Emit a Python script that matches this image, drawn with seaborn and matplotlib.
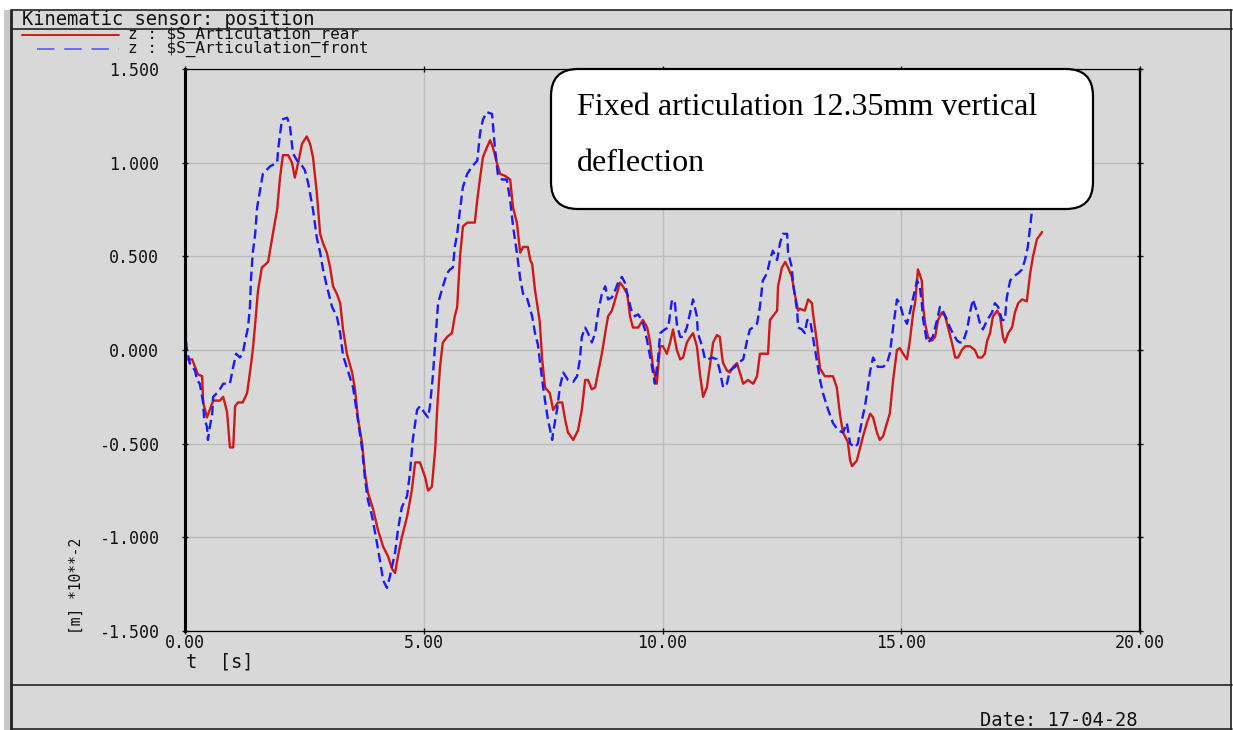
import matplotlib
matplotlib.use("Agg")
import matplotlib.pyplot as plt
import seaborn as sns
import pandas as pd
from matplotlib.patches import FancyBboxPatch, Rectangle
from matplotlib.lines import Line2D

# ---- data: kinematic sensor z-position (m * 1e-2) over time (s) ----
rear_t = [0.00, 0.02, 0.15, 0.21, 0.27, 0.36, 0.38, 0.46, 0.59, 0.73, 0.80, 0.88, 0.90, 0.94, 1.01,
          1.05, 1.11, 1.21, 1.30, 1.36, 1.42, 1.47, 1.53, 1.61, 1.74, 1.82, 1.84, 1.93, 1.99, 2.05,
          2.16, 2.24, 2.30, 2.37, 2.45, 2.55, 2.62, 2.68, 2.76, 2.83, 2.89, 2.97, 3.04, 3.10, 3.18,
          3.25, 3.31, 3.39, 3.50, 3.56, 3.62, 3.71, 3.77, 3.83, 3.94, 4.04, 4.15, 4.25, 4.34, 4.40,
          4.46, 4.54, 4.65, 4.75, 4.82, 4.92, 5.03, 5.09, 5.17, 5.24, 5.28, 5.34, 5.40, 5.49, 5.59,
          5.65, 5.70, 5.76, 5.82, 5.91, 6.07, 6.12, 6.18, 6.24, 6.32, 6.39, 6.45, 6.53, 6.60, 6.70,
          6.81, 6.87, 6.95, 7.02, 7.08, 7.18, 7.23, 7.27, 7.33, 7.43, 7.48, 7.54, 7.64, 7.71, 7.81,
          7.90, 7.96, 8.02, 8.13, 8.23, 8.31, 8.38, 8.44, 8.52, 8.59, 8.65, 8.73, 8.80, 8.86, 8.94,
          9.01, 9.11, 9.17, 9.26, 9.32, 9.38, 9.49, 9.59, 9.68, 9.74, 9.80, 9.88, 9.95, 10.01, 10.09,
          10.16, 10.22, 10.30, 10.37, 10.43, 10.51, 10.58, 10.64, 10.72, 10.79, 10.85, 10.93, 10.99,
          11.06, 11.14, 11.20, 11.25, 11.27, 11.35, 11.41, 11.48, 11.56, 11.62, 11.69, 11.79, 11.90,
          11.98, 12.04, 12.21, 12.25, 12.31, 12.40, 12.42, 12.50, 12.57, 12.63, 12.71, 12.77, 12.84,
          12.88, 12.98, 13.05, 13.13, 13.15, 13.24, 13.30, 13.40, 13.57, 13.65, 13.72, 13.78, 13.88,
          13.93, 13.97, 14.07, 14.14, 14.20, 14.28, 14.35, 14.41, 14.49, 14.55, 14.62, 14.70, 14.76,
          14.83, 14.91, 14.97, 15.04, 15.12, 15.18, 15.25, 15.29, 15.35, 15.43, 15.46, 15.50, 15.56,
          15.64, 15.71, 15.77, 15.85, 15.92, 15.98, 16.06, 16.13, 16.19, 16.27, 16.34, 16.44, 16.54,
          16.61, 16.69, 16.75, 16.80, 16.86, 16.92, 17.01, 17.07, 17.13, 17.17, 17.24, 17.32, 17.38,
          17.45, 17.53, 17.63, 17.70, 17.76, 17.84, 17.95]
rear_z = [0.48, -0.05, -0.05, -0.09, -0.13, -0.14, -0.28, -0.36, -0.27, -0.27, -0.25, -0.33, -0.39,
          -0.52, -0.52, -0.30, -0.28, -0.28, -0.23, -0.12, 0.00, 0.14, 0.32, 0.44, 0.47, 0.59, 0.62,
          0.75, 0.92, 1.04, 1.04, 1.00, 0.92, 1.00, 1.10, 1.14, 1.10, 1.03, 0.84, 0.62, 0.57, 0.52,
          0.44, 0.34, 0.30, 0.25, 0.11, -0.02, -0.12, -0.21, -0.36, -0.50, -0.66, -0.76, -0.85, -0.96,
          -1.05, -1.10, -1.17, -1.19, -1.10, -1.00, -0.89, -0.75, -0.60, -0.60, -0.68, -0.75, -0.73,
          -0.53, -0.32, -0.09, 0.04, 0.07, 0.09, 0.18, 0.23, 0.50, 0.66, 0.68, 0.68, 0.80, 0.92, 1.03,
          1.08, 1.12, 1.08, 1.00, 0.94, 0.93, 0.91, 0.76, 0.68, 0.52, 0.55, 0.55, 0.48, 0.46, 0.32,
          0.15, -0.05, -0.20, -0.23, -0.32, -0.28, -0.28, -0.37, -0.44, -0.48, -0.43, -0.32, -0.16,
          -0.16, -0.21, -0.20, -0.12, -0.02, 0.09, 0.18, 0.21, 0.27, 0.36, 0.34, 0.30, 0.18, 0.12,
          0.12, 0.16, 0.12, 0.04, -0.09, -0.18, 0.02, 0.02, -0.02, 0.04, 0.11, 0.00, -0.05, -0.04,
          0.04, 0.07, 0.09, 0.02, -0.14, -0.25, -0.20, -0.09, 0.04, 0.08, 0.07, -0.04, -0.07, -0.11,
          -0.12, -0.09, -0.07, -0.12, -0.18, -0.16, -0.18, -0.14, -0.02, -0.02, 0.16, 0.18, 0.21, 0.34,
          0.44, 0.47, 0.44, 0.39, 0.30, 0.21, 0.22, 0.21, 0.27, 0.25, 0.20, 0.03, -0.10, -0.14, -0.14,
          -0.20, -0.35, -0.44, -0.49, -0.59, -0.62, -0.59, -0.52, -0.46, -0.39, -0.34, -0.36, -0.44,
          -0.48, -0.46, -0.39, -0.34, -0.16, 0.00, 0.01, -0.02, -0.05, 0.05, 0.20, 0.25, 0.43, 0.37,
          0.23, 0.14, 0.07, 0.05, 0.07, 0.16, 0.20, 0.18, 0.12, 0.04, -0.04, -0.04, 0.00, 0.02, 0.02,
          0.00, -0.04, -0.04, -0.02, 0.05, 0.09, 0.18, 0.21, 0.18, 0.07, 0.04, 0.09, 0.12, 0.20, 0.25,
          0.27, 0.26, 0.41, 0.50, 0.59, 0.63]

front_t = [0.00, 0.02, 0.04, 0.10, 0.21, 0.25, 0.31, 0.38, 0.40, 0.46, 0.48, 0.52, 0.57, 0.59, 0.67,
           0.73, 0.80, 0.94, 1.01, 1.07, 1.15, 1.21, 1.26, 1.32, 1.36, 1.38, 1.42, 1.47, 1.51, 1.57,
           1.63, 1.78, 1.93, 1.95, 2.03, 2.14, 2.20, 2.26, 2.35, 2.41, 2.51, 2.58, 2.68, 2.76, 2.83,
           2.89, 2.97, 3.08, 3.18, 3.25, 3.31, 3.41, 3.52, 3.62, 3.71, 3.77, 3.83, 3.92, 4.02, 4.08,
           4.15, 4.23, 4.29, 4.40, 4.46, 4.54, 4.65, 4.71, 4.77, 4.86, 4.92, 5.03, 5.09, 5.13, 5.19,
           5.24, 5.30, 5.40, 5.49, 5.55, 5.61, 5.65, 5.70, 5.76, 5.82, 5.91, 6.01, 6.12, 6.18, 6.24,
           6.32, 6.43, 6.49, 6.55, 6.64, 6.74, 6.81, 6.87, 6.95, 7.02, 7.08, 7.16, 7.27, 7.33, 7.39,
           7.48, 7.54, 7.60, 7.69, 7.71, 7.79, 7.85, 7.92, 8.02, 8.13, 8.21, 8.27, 8.31, 8.38, 8.44,
           8.52, 8.59, 8.65, 8.73, 8.80, 8.86, 8.94, 9.01, 9.07, 9.15, 9.21, 9.28, 9.36, 9.42, 9.49,
           9.57, 9.63, 9.70, 9.78, 9.84, 9.91, 9.95, 10.05, 10.12, 10.20, 10.26, 10.30, 10.37, 10.43,
           10.51, 10.58, 10.64, 10.72, 10.74, 10.83, 10.89, 10.95, 11.04, 11.14, 11.20, 11.27, 11.35,
           11.41, 11.52, 11.58, 11.69, 11.77, 11.83, 11.90, 11.98, 12.04, 12.10, 12.19, 12.25, 12.31,
           12.40, 12.46, 12.52, 12.61, 12.63, 12.71, 12.73, 12.82, 12.84, 12.92, 12.98, 13.03, 13.09,
           13.15, 13.24, 13.30, 13.36, 13.47, 13.57, 13.68, 13.78, 13.86, 13.93, 14.03, 14.09, 14.18,
           14.24, 14.30, 14.35, 14.41, 14.51, 14.62, 14.70, 14.76, 14.83, 14.91, 14.97, 15.04, 15.12,
           15.18, 15.25, 15.33, 15.39, 15.43, 15.46, 15.54, 15.60, 15.66, 15.75, 15.81, 15.87, 15.96,
           16.02, 16.08, 16.17, 16.23, 16.29, 16.38, 16.44, 16.50, 16.59, 16.65, 16.71, 16.80, 16.90,
           16.96, 17.03, 17.11, 17.17, 17.21, 17.28, 17.34, 17.45, 17.53, 17.59, 17.65, 17.70, 17.74,
           17.80]
front_z = [0.50, 0.05, 0.00, -0.07, -0.11, -0.16, -0.18, -0.28, -0.36, -0.41, -0.48, -0.41, -0.34,
           -0.25, -0.23, -0.21, -0.18, -0.18, -0.09, -0.02, -0.04, -0.02, 0.05, 0.12, 0.23, 0.37, 0.52,
           0.62, 0.76, 0.85, 0.94, 0.98, 1.00, 1.07, 1.23, 1.24, 1.19, 1.05, 1.01, 1.00, 0.96, 0.89,
           0.75, 0.60, 0.52, 0.43, 0.34, 0.23, 0.18, 0.09, -0.03, -0.11, -0.20, -0.37, -0.53, -0.69,
           -0.80, -0.89, -1.03, -1.12, -1.23, -1.27, -1.21, -1.08, -0.96, -0.84, -0.78, -0.66, -0.48,
           -0.32, -0.30, -0.34, -0.36, -0.30, -0.14, 0.04, 0.25, 0.34, 0.41, 0.43, 0.44, 0.55, 0.62,
           0.75, 0.87, 0.94, 0.98, 1.01, 1.16, 1.23, 1.27, 1.26, 1.08, 0.94, 0.91, 0.91, 0.80, 0.66,
           0.52, 0.38, 0.30, 0.28, 0.18, 0.09, 0.03, -0.16, -0.27, -0.37, -0.48, -0.44, -0.32, -0.20,
           -0.12, -0.16, -0.17, -0.14, -0.05, 0.07, 0.12, 0.09, 0.04, 0.09, 0.20, 0.30, 0.34, 0.27,
           0.28, 0.32, 0.36, 0.39, 0.36, 0.28, 0.20, 0.18, 0.19, 0.16, 0.11, 0.02, -0.09, -0.18, -0.04,
           0.09, 0.11, 0.12, 0.27, 0.25, 0.14, 0.07, 0.07, 0.12, 0.20, 0.27, 0.18, 0.09, 0.02, -0.05,
           -0.05, -0.04, -0.05, -0.11, -0.20, -0.18, -0.11, -0.09, -0.07, -0.05, 0.05, 0.11, 0.12, 0.14,
           0.23, 0.37, 0.41, 0.48, 0.53, 0.48, 0.57, 0.62, 0.62, 0.52, 0.44, 0.36, 0.21, 0.12, 0.11,
           0.09, 0.16, 0.16, 0.07, -0.07, -0.16, -0.23, -0.32, -0.39, -0.43, -0.44, -0.39, -0.50, -0.52,
           -0.50, -0.37, -0.30, -0.20, -0.11, -0.04, -0.09, -0.09, -0.07, -0.02, 0.12, 0.27, 0.25, 0.18,
           0.14, 0.20, 0.28, 0.37, 0.34, 0.25, 0.16, 0.04, 0.05, 0.07, 0.16, 0.23, 0.21, 0.16, 0.12,
           0.09, 0.05, 0.04, 0.04, 0.11, 0.20, 0.27, 0.20, 0.14, 0.11, 0.16, 0.20, 0.25, 0.23, 0.16,
           0.16, 0.28, 0.37, 0.39, 0.41, 0.43, 0.48, 0.55, 0.66, 0.75, 0.88]

x_ticks = [0, 5, 10, 15, 20]
y_ticks = [-1.5, -1.0, -0.5, 0.0, 0.5, 1.0, 1.5]

title_text = "Kinematic sensor: position"
legend_labels = ["z : $S_Articulation_rear", "z : $S_Articulation_front"]
x_label = "t  [s]"
y_label = "[m] *10**-2"
date_text = "Date: 17-04-28"
note_lines = ["Fixed articulation 12.35mm vertical", "deflection"]

# ---- styling ----
sns.set_theme(style="white")
plt.rcParams["font.family"] = ["DejaVu Sans Mono", "DejaVu Sans"]
plt.rcParams["axes.unicode_minus"] = False

GRAY = "#d8d8d8"
RED = "#d01818"
BLUE = "#1a1aff"
INK = "#111111"
W, H = 1233, 730


def fx(px):
    return px / W


def fy(py):
    return 1 - py / H


fig = plt.figure(figsize=(W / 100, H / 100), dpi=100, facecolor="white")

# window panel and frame rules
fig.patches.append(Rectangle((fx(10), 0), fx(1232) - fx(10), fy(10), transform=fig.transFigure,
                             facecolor=GRAY, edgecolor="none", zorder=-10))
fig.patches.append(Rectangle((fx(4), 0), fx(6), fy(10), transform=fig.transFigure,
                             facecolor="#c8c8c8", edgecolor="none", zorder=-9))


def hline(y, x0=11, x1=1232, lw=1.2):
    fig.add_artist(Line2D([fx(x0), fx(x1)], [fy(y), fy(y)], transform=fig.transFigure,
                          color="#222222", linewidth=lw))


def vline(x, y0=10, y1=730, lw=1.5):
    fig.add_artist(Line2D([fx(x), fx(x)], [fy(y0), fy(y1)], transform=fig.transFigure,
                          color="#222222", linewidth=lw))


hline(10)
hline(29)
hline(685)
hline(729)
vline(11, lw=2.0)
vline(1231, lw=1.2)

# header title and legend
fig.text(fx(22), fy(19.5), title_text, fontsize=13.5, color=INK, va="center", ha="left")
fig.add_artist(Line2D([fx(22), fx(119)], [fy(35), fy(35)], transform=fig.transFigure,
                      color=RED, linewidth=1.4))
fig.add_artist(Line2D([fx(37), fx(119)], [fy(49), fy(49)], transform=fig.transFigure,
                      color="#6a6aff", linewidth=1.4, dashes=(9, 5)))
fig.text(fx(128), fy(42), "\n".join(legend_labels), fontsize=11.5, color=INK,
         va="center", ha="left", linespacing=0.88, parse_math=False)

# plot area
ax = fig.add_axes([fx(185), fy(631), fx(1140) - fx(185), fy(69) - fy(631)])
ax.set_facecolor(GRAY)

rear = pd.DataFrame({"t": rear_t, "z": rear_z})
front = pd.DataFrame({"t": front_t, "z": front_z})
sns.lineplot(data=rear, x="t", y="z", ax=ax, color=RED, linewidth=1.7, estimator=None, sort=False)
sns.lineplot(data=front, x="t", y="z", ax=ax, color=BLUE, linewidth=1.7, estimator=None, sort=False,
             linestyle=(0, (4, 2)))

ax.set_xlim(0, 20)
ax.set_ylim(-1.5, 1.5)
ax.set_xticks(x_ticks)
ax.set_xticklabels([f"{v:.2f}" for v in x_ticks])
ax.set_yticks(y_ticks)
ax.set_yticklabels([f"{v:.3f}" for v in y_ticks])
ax.set_xlabel("")
ax.set_ylabel("")
ax.grid(True, color="#bcbcbc", linewidth=1.0)
ax.set_axisbelow(True)
for side, lw in {"left": 2.2, "right": 1.6, "top": 0.9, "bottom": 0.9}.items():
    ax.spines[side].set_visible(True)
    ax.spines[side].set_color("black")
    ax.spines[side].set_linewidth(lw)
ax.tick_params(axis="y", left=True, right=True, direction="inout", length=5, width=1.0,
               pad=16, labelsize=12, colors=INK)
ax.tick_params(axis="x", bottom=True, top=True, direction="inout", length=4, width=1.0,
               pad=0, labelsize=12, colors=INK)

# axis titles
fig.text(fx(186), fy(662), x_label, fontsize=13.5, color=INK, va="center", ha="left")
fig.text(fx(76), fy(634), y_label, fontsize=10.5, color=INK, rotation=90,
         va="bottom", ha="center")

# footer
fig.text(fx(1138), fy(720), date_text, fontsize=13.5, color=INK, va="center", ha="right")

# annotation box over the plot
box = FancyBboxPatch((5.51, (H - 209) / 100), 5.42, 1.40,
                     boxstyle="round,pad=0,rounding_size=0.27",
                     transform=fig.dpi_scale_trans, facecolor="white",
                     edgecolor="black", linewidth=1.6, zorder=5)
fig.patches.append(box)
for line, base in zip(note_lines, [115, 171]):
    fig.text(fx(577), fy(base), line, fontsize=23, family=["Liberation Serif"], color="black",
             va="baseline", ha="left", zorder=6)

fig.savefig("out.png", dpi=100, facecolor="white")
